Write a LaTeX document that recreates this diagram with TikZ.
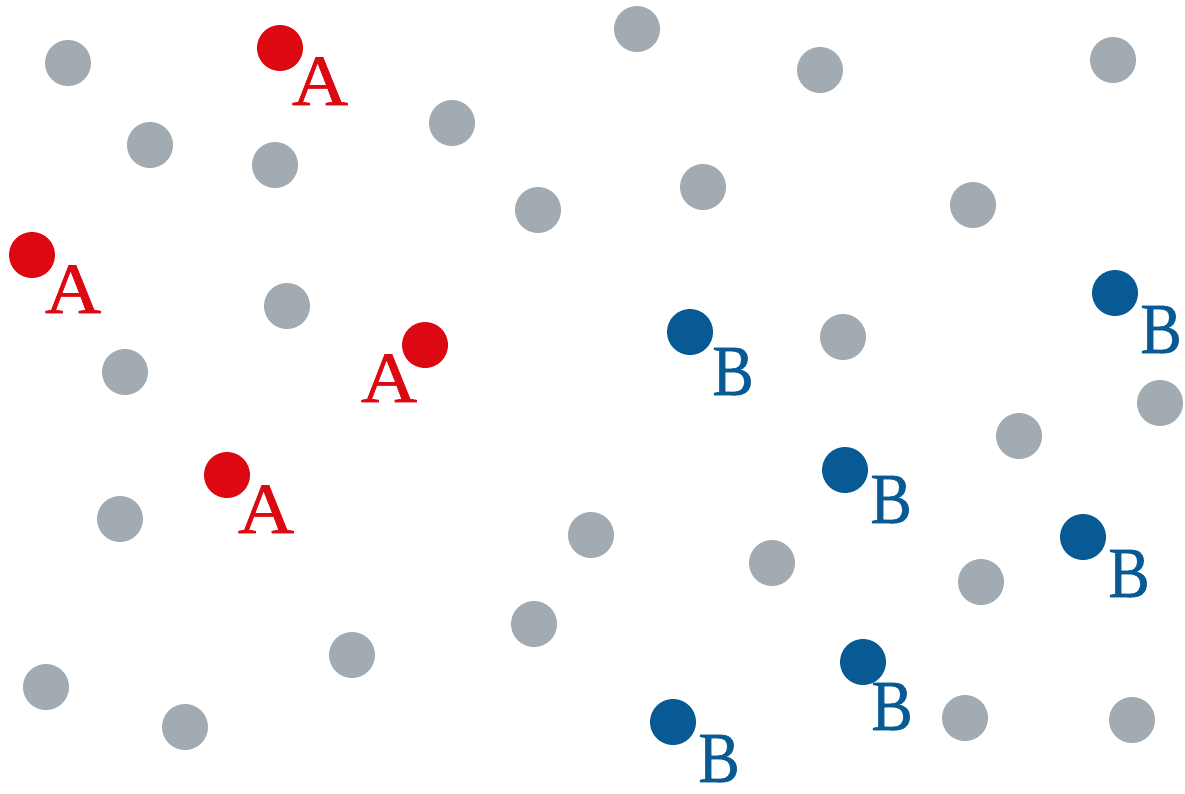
\documentclass[tikz,border=0pt]{standalone}
\usepackage{fontspec}
\setmainfont{Liberation Serif}
\newfontfamily\letterfont[FakeBold=0.9]{Liberation Serif}
\definecolor{dotgray}{RGB}{161,171,177}
\definecolor{dotred}{RGB}{220,8,18}
\definecolor{dotblue}{RGB}{8,90,148}
\begin{document}
\begin{tikzpicture}[x=1pt,y=-1pt,
  gdot/.style={circle,fill=dotgray,inner sep=0pt,minimum size=46pt},
  rdot/.style={circle,fill=dotred,inner sep=0pt,minimum size=46pt},
  bdot/.style={circle,fill=dotblue,inner sep=0pt,minimum size=46pt},
  alabel/.style={anchor=base,inner sep=0pt,text=dotred,xscale=1.08,
    font=\letterfont\fontsize{72}{72}\selectfont},
  blabel/.style={anchor=base,inner sep=0pt,text=dotblue,xscale=0.86,
    font=\letterfont\fontsize{72}{72}\selectfont}]
\useasboundingbox (0,0) rectangle (1185,793);
% neutral points
\foreach \px/\py [count=\i] in {68/63,150/145,275/165,452/123,637/29,820/70,1113/60,
  538/210,703/187,973/205,287/306,125/372,843/337,1160/403,1019/436,120/519,
  591/535,772/563,981/582,534/624,352/655,46/687,185/727,965/718,1132/720}
  \node[gdot] (g\i) at (\px,\py) {};
% class A points
\node[rdot] (a1) at (280,48) {};
\node[alabel] (la1) at (320,105) {A};
\node[rdot] (a2) at (32,255) {};
\node[alabel] (la2) at (73,313) {A};
\node[rdot] (a3) at (425,345) {};
\node[alabel] (la3) at (389,402) {A};
\node[rdot] (a4) at (227,475) {};
\node[alabel] (la4) at (266,533) {A};
% class B points
\node[bdot] (b1) at (690,332) {};
\node[blabel] (lb1) at (733,395) {B};
\node[bdot] (b2) at (1115,293) {};
\node[blabel] (lb2) at (1161,353) {B};
\node[bdot] (b3) at (845,470) {};
\node[blabel] (lb3) at (891,523) {B};
\node[bdot] (b4) at (1083,537) {};
\node[blabel] (lb4) at (1129,597) {B};
\node[bdot] (b5) at (863,662) {};
\node[blabel] (lb5) at (892,730) {B};
\node[bdot] (b6) at (673,722) {};
\node[blabel] (lb6) at (719,782) {B};
\end{tikzpicture}
\end{document}
